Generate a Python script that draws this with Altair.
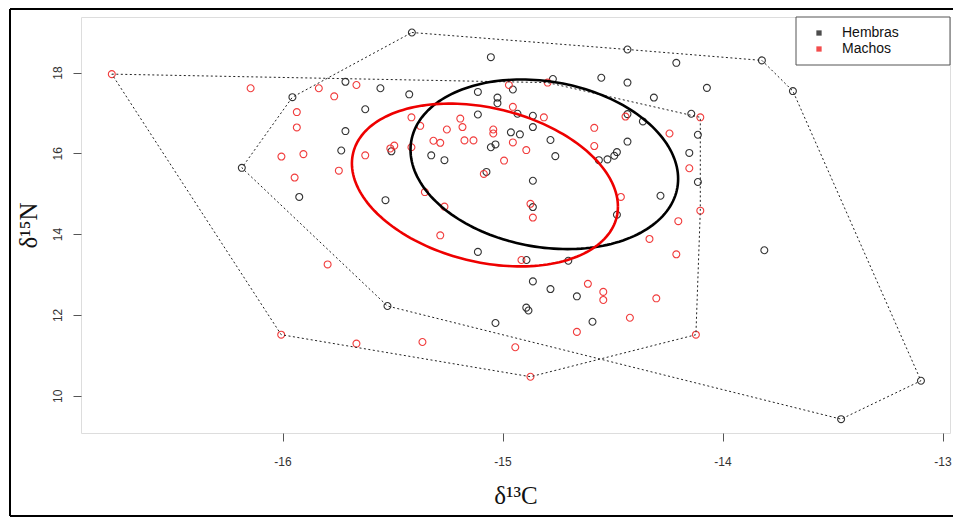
import numpy as np
import pandas as pd
import altair as alt

# ---------------- data ----------------
GROUPS = ["Hembras", "Machos"]

HEMBRAS_C = [-15.714, -15.955, -15.624, -15.714, -15.733, -16.185, -15.924, -15.412, -15.053, -15.555,
             -15.424, -15.112, -15.023, -15.023, -14.953, -14.771, -14.551, -14.432, -14.312, -15.112,
             -14.932, -14.862, -14.862, -14.962, -14.921, -14.782, -14.432, -14.362, -14.432, -15.505,
             -15.324, -15.264, -15.053, -15.032, -14.760, -14.562, -14.523, -14.492, -14.480, -15.073,
             -14.862, -15.532, -14.282, -14.862, -14.480, -14.432, -14.210, -13.821, -13.680, -14.071,
             -14.142, -14.112, -14.151, -14.112, -13.810, -13.098, -13.461, -15.112, -14.891, -14.701,
             -14.862, -14.782, -14.662, -15.523, -14.892, -14.882, -15.032, -14.591]
HEMBRAS_N = [17.77, 17.39, 17.09, 16.55, 16.07, 15.64, 14.92, 18.99, 18.38, 17.61,
             17.46, 17.52, 17.38, 17.24, 17.58, 17.84, 17.87, 17.75, 17.38, 16.96,
             16.98, 16.93, 16.65, 16.52, 16.47, 16.33, 16.29, 16.79, 16.97, 16.05,
             15.95, 15.83, 16.15, 16.22, 15.93, 15.83, 15.85, 15.94, 16.03, 15.54,
             15.32, 14.84, 14.95, 14.67, 14.48, 18.57, 18.24, 18.30, 17.54, 17.62,
             16.98, 16.46, 16.01, 15.29, 13.60, 10.37, 9.42, 13.56, 13.36, 13.34,
             12.83, 12.64, 12.46, 12.22, 12.18, 12.11, 11.80, 11.83]

MACHOS_C = [-16.776, -16.145, -15.835, -15.765, -15.664, -15.935, -15.935, -16.005, -15.905, -15.945,
            -15.744, -15.624, -14.971, -14.795, -14.953, -14.812, -15.414, -15.374, -15.253, -15.192,
            -15.182, -15.042, -15.042, -15.314, -15.283, -15.173, -15.132, -14.953, -14.892, -15.510,
            -15.492, -15.414, -14.993, -15.085, -14.583, -14.583, -14.441, -15.353, -15.264, -14.873,
            -14.862, -14.462, -14.101, -14.241, -14.151, -14.101, -14.201, -14.210, -14.121, -15.795,
            -16.006, -15.664, -14.332, -15.283, -14.914, -14.612, -14.542, -14.542, -14.301, -14.421,
            -14.662, -15.364, -14.942, -14.873]
MACHOS_N = [17.96, 17.61, 17.61, 17.41, 17.69, 17.02, 16.64, 15.92, 15.98, 15.40,
            15.57, 15.95, 17.69, 17.75, 17.15, 16.89, 16.89, 16.68, 16.59, 16.86,
            16.65, 16.59, 16.49, 16.31, 16.26, 16.32, 16.32, 16.27, 16.08, 16.12,
            16.19, 16.15, 15.82, 15.49, 16.63, 16.18, 16.91, 15.04, 14.68, 14.75,
            14.41, 14.92, 16.89, 16.49, 15.63, 14.58, 14.32, 13.50, 11.51, 13.25,
            11.51, 11.29, 13.88, 13.97, 13.36, 12.77, 12.57, 12.37, 12.41, 11.93,
            11.58, 11.33, 11.20, 10.47]

# convex hull vertices (indices into the lists above, in drawing order)
HEMBRAS_HULL = [7, 45, 47, 48, 55, 56, 63, 5, 1]
MACHOS_HULL = [0, 13, 42, 45, 48, 63, 50]

# standard ellipses: centre and covariance (x var, y var, covariance)
ELLIPSE_CX = [-14.810, -15.080]
ELLIPSE_CY = [15.728, 15.215]
ELLIPSE_SXX = [0.3699, 0.3655]
ELLIPSE_SYY = [4.406, 4.060]
ELLIPSE_SXY = [-0.2183, -0.3229]

X_TICKS = [-16, -15, -14, -13]
Y_TICKS = [10, 12, 14, 16, 18]
X_DOMAIN = [-16.916, -12.966]
Y_DOMAIN = [9.077, 19.374]

POINT_COLORS = ["#1e1e1e", "#f02828"]
LINE_COLORS = ["#000000", "#ee0000"]

# ---------------- tables ----------------
pts = pd.concat([
    pd.DataFrame({"c": HEMBRAS_C, "n": HEMBRAS_N, "g": GROUPS[0]}),
    pd.DataFrame({"c": MACHOS_C, "n": MACHOS_N, "g": GROUPS[1]}),
], ignore_index=True)

hull_rows = []
for g, cs, ns, idx in [(GROUPS[0], HEMBRAS_C, HEMBRAS_N, HEMBRAS_HULL),
                       (GROUPS[1], MACHOS_C, MACHOS_N, MACHOS_HULL)]:
    for k, i in enumerate(idx + [idx[0]]):
        hull_rows.append({"c": cs[i], "n": ns[i], "g": g, "o": k})
hull = pd.DataFrame(hull_rows)

ell_rows = []
t = np.linspace(0, 2 * np.pi, 181)
for j, g in enumerate(GROUPS):
    cov = np.array([[ELLIPSE_SXX[j], ELLIPSE_SXY[j]], [ELLIPSE_SXY[j], ELLIPSE_SYY[j]]])
    L = np.linalg.cholesky(cov)
    xy = L @ np.vstack([np.cos(t), np.sin(t)])
    for k in range(len(t)):
        ell_rows.append({"c": ELLIPSE_CX[j] + xy[0, k], "n": ELLIPSE_CY[j] + xy[1, k], "g": g, "o": k})
ell = pd.DataFrame(ell_rows)

# ---------------- encodings ----------------
xenc = alt.X("c:Q", scale=alt.Scale(domain=X_DOMAIN, nice=False, zero=False),
             axis=alt.Axis(values=X_TICKS, title="δ¹³C", grid=False, domain=False,
                           tickSize=8, tickColor="#555", tickWidth=1,
                           labelFont="Liberation Sans", labelFontSize=12, labelColor="#333",
                           labelPadding=15, labelExpr="datum.value + ''",
                           titleFont="Liberation Serif", titleFontSize=25, titleFontWeight="normal",
                           titleColor="#111", titleY=62, titleBaseline="middle"))
yenc = alt.Y("n:Q", scale=alt.Scale(domain=Y_DOMAIN, nice=False, zero=False),
             axis=alt.Axis(values=Y_TICKS, title="δ¹⁵N", grid=False, domain=False,
                           tickSize=8, tickColor="#555", tickWidth=1,
                           labelFont="Liberation Sans", labelFontSize=12, labelColor="#333",
                           labelAngle=270, labelAlign="center", labelBaseline="bottom",
                           labelPadding=9, labelExpr="datum.value + ''",
                           titleFont="Liberation Serif", titleFontSize=25, titleFontWeight="normal",
                           titleColor="#111", titleAngle=270, titleX=-53, titleBaseline="middle"))

pcolor = alt.Color("g:N", scale=alt.Scale(domain=GROUPS, range=POINT_COLORS), legend=None)

points = alt.Chart(pts).mark_point(shape="circle", filled=False, size=48, strokeWidth=1.1,
                                   opacity=0.9).encode(x=xenc, y=yenc, color=pcolor)

hulls = alt.Chart(hull).mark_line(strokeDash=[2, 2.5], strokeWidth=1, color="#222").encode(
    x="c:Q", y="n:Q", detail="g:N", order="o:Q")

ellipses = alt.Chart(ell).mark_line(strokeWidth=2.6).encode(
    x="c:Q", y="n:Q", color=alt.Color("g:N", scale=alt.Scale(domain=GROUPS, range=LINE_COLORS),
                                       legend=None), detail="g:N", order="o:Q")

# ---------------- manual legend (top-right box) ----------------
one = pd.DataFrame({"a": [0]})
legend_layers = [
    alt.Chart(one).mark_rect(fill="white", stroke="#555", strokeWidth=1).encode(
        x=alt.value(715), x2=alt.value(869), y=alt.value(0), y2=alt.value(48))
]
for j, g in enumerate(GROUPS):
    yy = 16 + 16 * j
    legend_layers.append(alt.Chart(one).mark_square(size=28, filled=True, color=LINE_COLORS[j]).encode(
        x=alt.value(738), y=alt.value(yy)))
    legend_layers.append(alt.Chart(one).mark_text(text=g, align="left", baseline="middle",
                                                   font="Liberation Sans", fontSize=14, color="#111").encode(
        x=alt.value(761), y=alt.value(yy)))

# ---------------- outer frame of the figure ----------------
frame = [
    alt.Chart(one).mark_rule(color="#000", strokeWidth=2).encode(
        x=alt.value(-71), x2=alt.value(875), y=alt.value(-8)),
    alt.Chart(one).mark_rule(color="#000", strokeWidth=2).encode(
        x=alt.value(-71), y=alt.value(-8), y2=alt.value(499)),
    alt.Chart(one).mark_rule(color="#000", strokeWidth=2).encode(
        x=alt.value(-71), x2=alt.value(875), y=alt.value(499)),
]

chart = alt.layer(points, hulls, ellipses, *legend_layers, *frame).resolve_scale(color="independent").properties(
    width=869, height=416,
    autosize=alt.AutoSizeParams(type="none"),
    padding={"left": 73, "top": 9, "right": 3, "bottom": 85},
).configure_view(stroke="#555", strokeWidth=1).configure(background="white")

chart.save("out.html", embed_options={"renderer": "svg", "actions": False})
